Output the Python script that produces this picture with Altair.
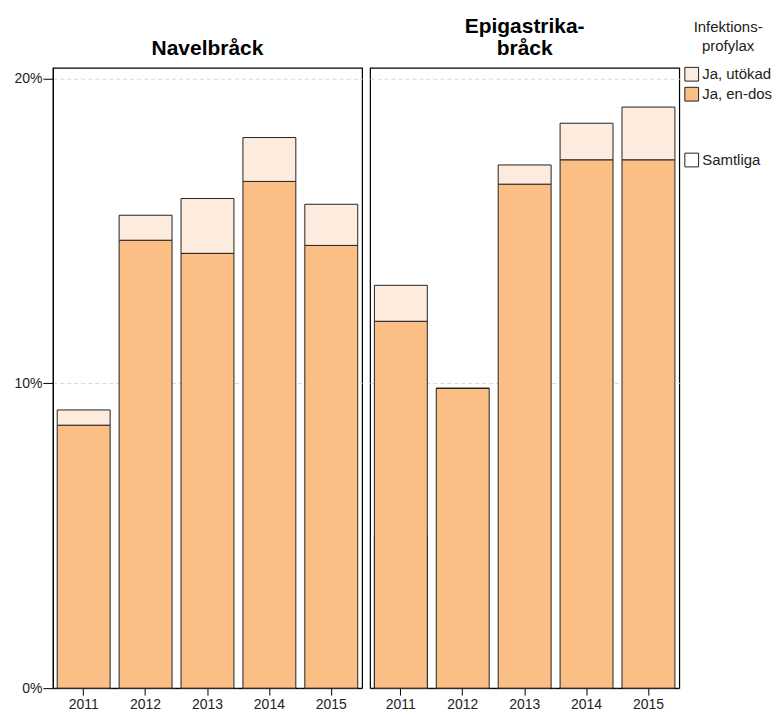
import altair as alt
import pandas as pd

years = ["2011", "2012", "2013", "2014", "2015"]
navel_total = [9.13, 15.52, 16.07, 18.07, 15.88]
navel_endos = [8.63, 14.70, 14.27, 16.63, 14.53]
epi_total = [13.22, 9.84, 17.17, 18.54, 19.07]
epi_endos = [12.04, 9.84, 16.54, 17.34, 17.34]
series = ["Ja, utökad", "Ja, en-dos"]
colors = ["#FDEBDD", "#FBBE85"]
samt_label = ["Samtliga"]


def make_df(total, endos):
    rows = []
    for y, t, e in zip(years, total, endos):
        rows.append({"year": y, "serie": "Ja, en-dos", "value": e / 100, "ord": 0})
        rows.append({"year": y, "serie": "Ja, utökad", "value": (t - e) / 100, "ord": 1})
    return pd.DataFrame(rows)


FONT = "Liberation Sans"
ydomain = [0, 0.2036]
LEG_X = 633

color = alt.Color(
    "serie:N",
    scale=alt.Scale(domain=series, range=colors),
    legend=alt.Legend(
        title=["Infektions-", "profylax"],
        orient="none",
        legendX=LEG_X,
        legendY=-48,
        symbolType="square",
        symbolSize=190,
        symbolStrokeColor="#222",
        symbolStrokeWidth=1,
        labelFontSize=15,
        labelFont=FONT,
        labelColor="#222",
        labelOffset=3,
        titleFont=FONT,
        titleFontSize=15,
        titleLineHeight=19,
        titleFontWeight="normal",
        titleColor="#222",
        titleAnchor="middle",
        titlePadding=13,
        rowPadding=1,
        padding=0,
    ),
)


def y_axis(show):
    if show:
        return alt.Axis(values=[0, 0.1, 0.2], format=".0%", title=None, tickSize=10,
                        labelFontSize=14, labelFont=FONT, labelColor="#222",
                        grid=True, gridDash=[4, 3], gridColor="#d9d9d9",
                        domainColor="#000", tickColor="#000", labelPadding=1)
    return alt.Axis(values=[0, 0.1, 0.2], title=None, labels=False, ticks=False,
                    domain=False, grid=True, gridDash=[4, 3], gridColor="#d9d9d9")


def x_enc():
    return alt.X("year:N", sort=years,
                 axis=alt.Axis(title=None, labelAngle=0, tickSize=7, labelFontSize=14,
                               labelFont=FONT, labelColor="#222", domainColor="#000",
                               tickColor="#000", labelPadding=2),
                 scale=alt.Scale(paddingInner=0.145, paddingOuter=0.07))


def y_enc(show):
    return alt.Y("value:Q", stack="zero", axis=y_axis(show),
                 scale=alt.Scale(domain=ydomain, nice=False))


def panel(df, show_y):
    return alt.Chart(df).mark_bar(stroke="#222", strokeWidth=1).encode(
        x=x_enc(),
        y=y_enc(show_y),
        color=color,
        order=alt.Order("ord:Q"),
    )


navel_df = make_df(navel_total, navel_endos)
epi_df = make_df(epi_total, epi_endos)

title_params = dict(font=FONT, fontSize=21, fontWeight="bold", color="#000", offset=9,
                    anchor="middle", lineHeight=22)

left = panel(navel_df, True).properties(
    width=310, height=622, title=alt.TitleParams("Navelbråck", **title_params))

# hidden bar (drawn underneath the 2011 bar) that only provides the "Samtliga" legend entry
dummy = pd.DataFrame({"year": ["2011"], "value": [0.05], "g": samt_label})
samt = alt.Chart(dummy).mark_bar(stroke="#222", strokeWidth=1).encode(
    x=x_enc(),
    y=y_enc(False),
    fill=alt.Fill("g:N", scale=alt.Scale(domain=samt_label, range=["white"]),
                  legend=alt.Legend(title=None, orient="none", legendX=LEG_X, legendY=85,
                                    symbolType="square", symbolSize=190,
                                    symbolStrokeColor="#222", symbolStrokeWidth=1,
                                    labelFontSize=15, labelFont=FONT, labelColor="#222",
                                    labelOffset=3, padding=0)),
)
right = alt.layer(samt, panel(epi_df, False)).properties(
    width=310, height=622,
    title=alt.TitleParams(["Epigastrika-", "bråck"], **title_params))

chart = alt.hconcat(left, right, spacing=8, bounds="flush").resolve_scale(
    y="shared"
).configure_view(stroke="#000", strokeWidth=1.2).properties(
    padding={"left": 5, "top": 6, "right": 0, "bottom": 0}
)

chart.save("out.html", embed_options={"renderer": "svg", "actions": False})
